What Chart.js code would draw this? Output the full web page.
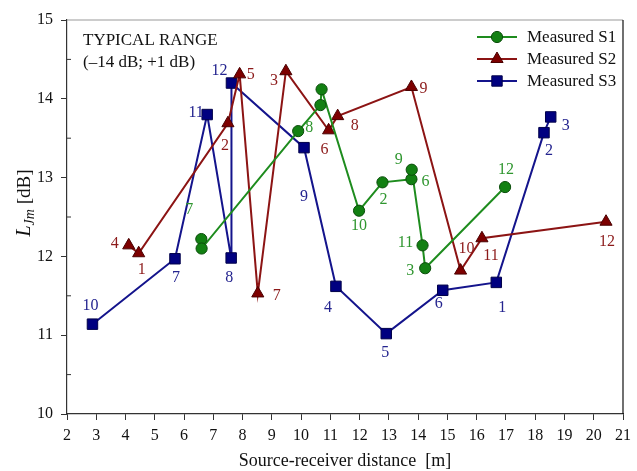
<!DOCTYPE html>
<html>
<head>
<meta charset="utf-8">
<script src="https://cdn.jsdelivr.net/npm/chart.js@4.4.0/dist/chart.umd.min.js"></script>
<style>
  html, body { margin: 0; padding: 0; background: #fff; }
  #wrap { width: 637px; height: 471px; position: relative; }
</style>
</head>
<body>
<div id="wrap"><canvas id="chart"></canvas></div>
<script>
const s1X = [6.59, 6.60, 9.90, 10.66, 10.70, 11.98, 12.78, 13.77, 13.78, 14.15, 14.24, 16.97];
const s1Y = [12.22, 12.10, 13.59, 13.92, 14.12, 12.58, 12.94, 12.98, 13.10, 12.14, 11.85, 12.88];
const s1Labels = ["7", "", "8", "", "", "10", "2", "6", "9", "11", "3", "12"];

const s2X = [4.11, 4.45, 7.50, 7.90, 8.52, 9.48, 10.94, 11.25, 13.77, 15.45, 16.18, 20.42];
const s2Y = [12.14, 12.04, 13.69, 14.31, 11.53, 14.35, 13.60, 13.78, 14.15, 11.82, 12.23, 12.44];
const s2Labels = ["4", "1", "2", "5", "7", "3", "6", "8", "9", "10", "11", "12"];

const s3X = [2.87, 5.69, 6.79, 7.61, 7.62, 10.10, 11.19, 12.91, 14.84, 16.67, 18.30, 18.53];
const s3Y = [11.14, 11.97, 13.80, 11.98, 14.20, 13.38, 11.62, 11.02, 11.57, 11.67, 13.57, 13.77];
const s3Labels = ["10", "7", "11", "8", "12", "9", "4", "5", "6", "1", "2", "3"];

const xTicks = [2, 3, 4, 5, 6, 7, 8, 9, 10, 11, 12, 13, 14, 15, 16, 17, 18, 19, 20, 21];
const yTicks = [10, 11, 12, 13, 14, 15];

// where each number sits next to its marker (pixels)
const s1LabelOffsets = [[-12, -29], [0, 0], [11, -3], [0, 0], [0, 0], [0, 15], [1, 17], [14, 3], [-13, -10], [-17, -3], [-15, 3], [1, -17]];
const s2LabelOffsets = [[-14, -2], [3, 17], [-3, 23], [11, 0], [19, 2], [-12, 10], [-4, 19], [17, 10], [12, 2], [6, -22], [9, 18], [1, 20]];
const s3LabelOffsets = [[-2, -18], [1, 19], [-11, -2], [-2, 20], [-12, -12], [0, 49], [-8, 21], [-1, 19], [-4, 14], [6, 25], [5, 18], [15, 9]];

const SERIF = "'Liberation Serif', 'DejaVu Serif', serif";

function toPoints(xs, ys) {
  return xs.map((x, i) => ({ x: x, y: ys[i] }));
}

const series = [
  { name: "Measured S1", xs: s1X, ys: s1Y, labels: s1Labels, offsets: s1LabelOffsets,
    line: "#1e8c1e", fill: "#128012", edge: "#0b4d0b", text: "#2f962f", style: "circle", r: 5.6 },
  { name: "Measured S2", xs: s2X, ys: s2Y, labels: s2Labels, offsets: s2LabelOffsets,
    line: "#8c1414", fill: "#7d0000", edge: "#4a0000", text: "#8c1a1a", style: "triangle", r: 7 },
  { name: "Measured S3", xs: s3X, ys: s3Y, labels: s3Labels, offsets: s3LabelOffsets,
    line: "#14148c", fill: "#000080", edge: "#00004a", text: "#24248f", style: "rect", r: 7.4 },
];

const datasets = series.map((s) => ({
  label: s.name,
  data: toPoints(s.xs, s.ys),
  showLine: true,
  borderColor: s.line,
  borderWidth: 2,
  backgroundColor: s.fill,
  pointStyle: s.style,
  pointRadius: s.r,
  pointBackgroundColor: s.fill,
  pointBorderColor: s.edge,
  pointBorderWidth: 1,
  tension: 0,
}));

const extras = {
  id: "extras",
  afterDatasetsDraw(chart) {
    const ctx = chart.ctx;
    const area = chart.chartArea;
    const xs = chart.scales.x;
    const ys = chart.scales.y;
    ctx.save();

    // top and right frame
    ctx.lineWidth = 1.2;
    ctx.strokeStyle = "#9a9a9a";
    ctx.beginPath();
    ctx.moveTo(area.left, area.top);
    ctx.lineTo(area.right, area.top);
    ctx.stroke();
    ctx.strokeStyle = "#111";
    ctx.beginPath();
    ctx.moveTo(area.right, area.top);
    ctx.lineTo(area.right, area.bottom);
    ctx.stroke();

    // minor ticks on y, inside
    ctx.strokeStyle = "#333";
    ctx.lineWidth = 1;
    for (let v = 10.5; v < 15; v += 1) {
      const py = ys.getPixelForValue(v);
      ctx.beginPath();
      ctx.moveTo(area.left, py);
      ctx.lineTo(area.left + 4, py);
      ctx.stroke();
    }

    // point numbers
    ctx.font = "16px " + SERIF;
    ctx.textAlign = "center";
    ctx.textBaseline = "middle";
    series.forEach((s, si) => {
      const meta = chart.getDatasetMeta(si);
      ctx.fillStyle = s.text;
      meta.data.forEach((pt, i) => {
        if (!s.labels[i]) return;
        const off = s.offsets[i];
        ctx.fillText(s.labels[i], pt.x + off[0], pt.y + off[1]);
      });
    });

    // typical range note
    ctx.fillStyle = "#111";
    ctx.textAlign = "left";
    ctx.textBaseline = "alphabetic";
    ctx.font = "17px " + SERIF;
    ctx.fillText("TYPICAL RANGE", 83, 45);
    ctx.fillText("(\u201314 dB; +1 dB)", 83, 67);

    // legend
    const rows = [37, 59, 81];
    series.forEach((s, i) => {
      const y = rows[i];
      ctx.strokeStyle = s.line;
      ctx.lineWidth = 2;
      ctx.beginPath();
      ctx.moveTo(477, y);
      ctx.lineTo(517, y);
      ctx.stroke();
      ctx.fillStyle = s.fill;
      ctx.strokeStyle = s.edge;
      ctx.lineWidth = 1;
      ctx.beginPath();
      if (s.style === "circle") {
        ctx.arc(497, y, 5.6, 0, Math.PI * 2);
      } else if (s.style === "triangle") {
        ctx.moveTo(497, y - 7);
        ctx.lineTo(497 + 6.1, y + 3.5);
        ctx.lineTo(497 - 6.1, y + 3.5);
        ctx.closePath();
      } else {
        ctx.rect(497 - 5.2, y - 5.2, 10.4, 10.4);
      }
      ctx.fill();
      ctx.stroke();
      ctx.fillStyle = "#111";
      ctx.font = "17px " + SERIF;
      ctx.textBaseline = "middle";
      ctx.fillText(s.name, 527, y + 1);
    });

    // x title
    ctx.textAlign = "center";
    ctx.textBaseline = "middle";
    ctx.font = "18px " + SERIF;
    ctx.fillText("Source-receiver distance  [m]", (area.left + area.right) / 2, 461);

    // y title with italic subscript
    ctx.translate(23, 203);
    ctx.rotate(-Math.PI / 2);
    const fBig = "italic 20px " + SERIF;
    const fSub = "italic 14px " + SERIF;
    const fReg = "19px " + SERIF;
    ctx.font = fBig; const wL = ctx.measureText("L").width;
    ctx.font = fSub; const wS = ctx.measureText("Jm").width;
    ctx.font = fReg; const wR = ctx.measureText(" [dB]").width;
    let cx = -(wL + wS + wR) / 2;
    ctx.textAlign = "left";
    ctx.textBaseline = "alphabetic";
    ctx.font = fBig; ctx.fillText("L", cx, 7); cx += wL;
    ctx.font = fSub; ctx.fillText("Jm", cx, 11); cx += wS;
    ctx.font = fReg; ctx.fillText(" [dB]", cx, 7);

    ctx.restore();
  },
};

new Chart(document.getElementById("chart"), {
  type: "scatter",
  data: { datasets: datasets },
  options: {
    responsive: true,
    maintainAspectRatio: false,
    animation: false,
    layout: { padding: { left: 0, top: 20, right: 8, bottom: 0 } },
    plugins: { legend: { display: false }, tooltip: { enabled: false } },
    scales: {
      x: {
        type: "linear",
        min: xTicks[0],
        max: xTicks[xTicks.length - 1],
        afterBuildTicks: (scale) => { scale.ticks = xTicks.map((v) => ({ value: v })); },
        afterFit: (scale) => { scale.height = 57; },
        ticks: { autoSkip: false, maxRotation: 0, padding: 6, color: "#111", font: { family: SERIF, size: 16 } },
        grid: { drawOnChartArea: false, tickLength: 6, color: "#333" },
        border: { color: "#333", width: 1.2 },
      },
      y: {
        type: "linear",
        min: yTicks[0],
        max: yTicks[yTicks.length - 1],
        afterBuildTicks: (scale) => { scale.ticks = yTicks.map((v) => ({ value: v })); },
        afterFit: (scale) => { scale.width = 67; },
        ticks: { autoSkip: false, padding: 8, color: "#111", font: { family: SERIF, size: 16 } },
        grid: { drawOnChartArea: false, tickLength: 6, color: "#333" },
        border: { color: "#333", width: 1.2 },
      },
    },
  },
  plugins: [extras],
});
</script>
</body>
</html>
